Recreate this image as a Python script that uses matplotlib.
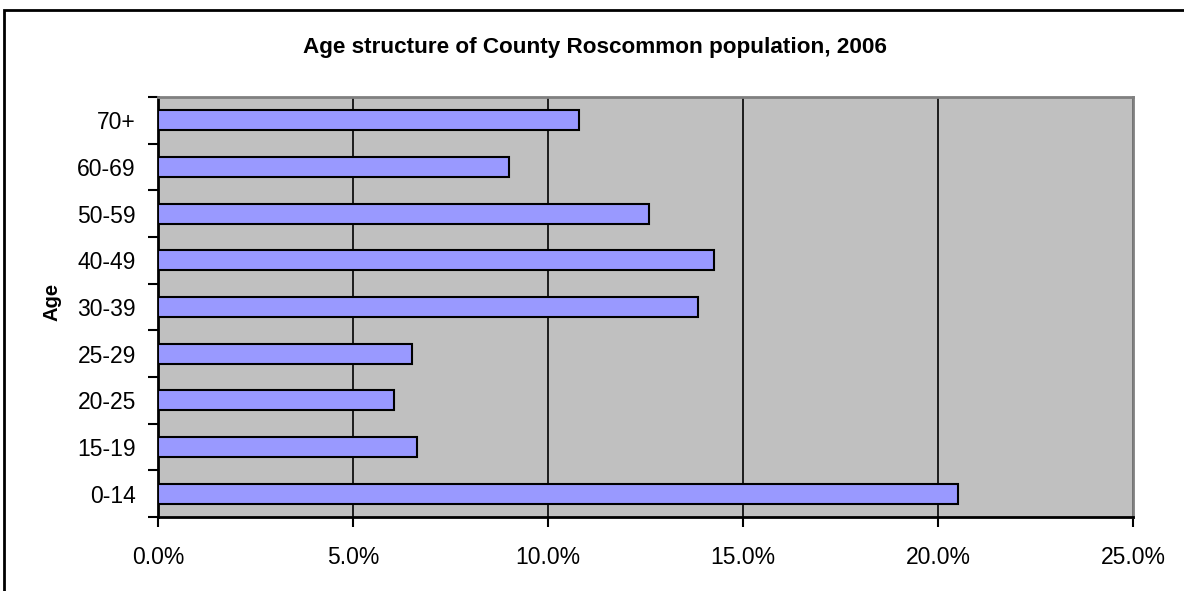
import numpy as np
import matplotlib.pyplot as plt
from matplotlib.patches import Rectangle
from matplotlib.ticker import FuncFormatter, MultipleLocator, FixedLocator

# age groups, bottom to top
ages = ['0-14', '15-19', '20-25', '25-29', '30-39', '40-49', '50-59', '60-69', '70+']
share = [20.5, 6.65, 6.05, 6.5, 13.85, 14.25, 12.6, 9.0, 10.8]  # percent of population

plt.rcParams['font.family'] = ['Liberation Sans', 'DejaVu Sans']

fig = plt.figure(figsize=(11.84, 5.91), dpi=100)
W, H = 1184, 591
ax = fig.add_axes([158 / W, 1 - 517 / H, (1133 - 158) / W, (517 - 97) / H])

# outer chart frame (runs off the right and bottom of the image)
fig.patches.append(Rectangle((3.5 / W, -0.1), 1.2, 1 - 10 / H + 0.1, transform=fig.transFigure,
                             fill=False, edgecolor='black', linewidth=2))

ax.set_facecolor('#C0C0C0')
y = np.arange(len(ages))
ax.barh(y, share, height=0.43, color='#9999FF', edgecolor='black', linewidth=1.5, zorder=3)

ax.set_xlim(0, 25)
ax.set_ylim(-0.5, len(ages) - 0.5)
ax.xaxis.set_major_locator(MultipleLocator(5))
ax.xaxis.set_major_formatter(FuncFormatter(lambda v, p: f'{v:.1f}%'))
ax.grid(axis='x', color='black', linewidth=1.2, zorder=1)

ax.set_yticks(y)
ax.set_yticklabels(ages)
ax.yaxis.set_minor_locator(FixedLocator(np.arange(-0.5, len(ages), 1.0)))
ax.tick_params(axis='y', which='major', length=0, pad=16, labelsize=16.5)
ax.tick_params(axis='y', which='minor', length=7, width=1.5, color='black')
ax.tick_params(axis='x', length=7, width=1.5, pad=14, labelsize=16.5)

for side in ['top', 'right']:
    ax.spines[side].set_color('#808080')
    ax.spines[side].set_linewidth(2)
for side in ['bottom', 'left']:
    ax.spines[side].set_color('black')
    ax.spines[side].set_linewidth(2)

fig.text(595 / W, 1 - 48 / H, 'Age structure of County Roscommon population, 2006',
         ha='center', va='center', fontsize=16.2, fontweight='bold')
fig.text(52 / W, 1 - 302 / H, 'Age', ha='center', va='center', rotation=90,
         fontsize=14.5, fontweight='bold')

fig.savefig('out.png', dpi=100)
